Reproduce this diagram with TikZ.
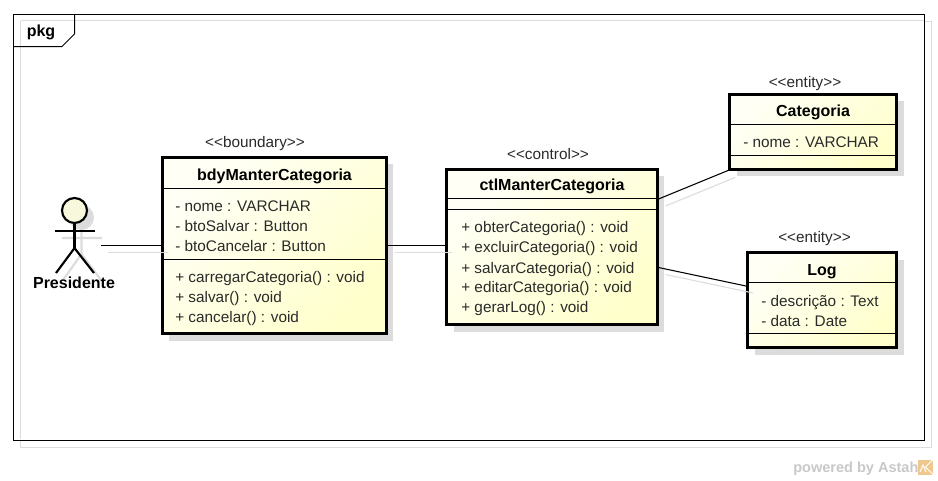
\documentclass[tikz,border=0pt]{standalone}
\usepackage{fontspec}
\setmainfont{Liberation Sans}
\usetikzlibrary{shadows}
\definecolor{boxlight}{HTML}{FFFFF6}
\definecolor{boxdark}{HTML}{FFFFCC}
\definecolor{shadowgray}{HTML}{DCDCDC}
\definecolor{headfill}{HTML}{F8F8DC}
\definecolor{astahgray}{HTML}{C8C8C8}
\definecolor{astahorange}{HTML}{EFC88E}
\definecolor{lighttext}{HTML}{2A2A2A}
\tikzset{
	classbox/.style 2 args={draw,line width=2.25pt,minimum width=#1*0.75pt,minimum height=#2*0.75pt,inner sep=0pt,
		general shadow={fill=shadowgray,shadow xshift=5.25pt,shadow yshift=-5.25pt},
		left color=boxlight,right color=boxdark,shading angle=45},
	rowline/.style={line width=0.75pt},
	assoc/.style={line width=0.8pt},
	assocshadow/.style={line width=0.8pt,shadowgray,transform canvas={xshift=5.25pt,yshift=-5.25pt}},
	stereo/.style={anchor=base,inner sep=0pt,text=lighttext,font=\fontsize{11.5}{13}\selectfont},
	title/.style={anchor=base,inner sep=0pt,font=\fontsize{12}{14}\selectfont\bfseries},
	member/.style={anchor=base west,inner sep=0pt,text=lighttext,font=\fontsize{11.5}{14}\selectfont},
	stick/.style={line width=1.6pt},
	stickshadow/.style={line width=1.6pt,shadowgray}
}
\begin{document}
\begin{tikzpicture}[x=0.75pt,y=-0.75pt]
\useasboundingbox (0,0) rectangle (938,480);
% frame
\node[draw=shadowgray,line width=0.75pt,minimum width=911*0.75pt,minimum height=426*0.75pt,inner sep=0pt] (pkgshadow) at (476,234) {};
\node[draw,fill=white,line width=0.75pt,minimum width=911*0.75pt,minimum height=426*0.75pt,inner sep=0pt] (pkg) at (469,227) {};
\draw[shadowgray,line width=0.75pt] (20.5,20.5) -- (924,20.5) (20.5,20.5) -- (20.5,439);
\draw[line width=0.75pt] (pkg.north west |- 0,46.5) -- (62,46.5) -- (74.5,34) -- (74.5,14);
\node[title] (pkgname) at (41,36) {pkg};
% actor
\draw[stickshadow] (81.5,230) -- (81.5,254) (62,238) -- (102,238) (63,280) -- (81.5,254) -- (101,280);
\fill[shadowgray] (81.5,217.5) circle (12.5);
\node[circle,draw,fill=headfill,line width=1.6pt,minimum size=25*0.75pt,inner sep=0pt] (head) at (74.5,210.5) {};
\draw[stick] (head.south) -- ++(0,24) coordinate (hip);
\draw[stick] (55,231) -- (95,231);
\draw[stick] (56,273) -- (hip) -- (94,273);
\node[title] (presidente) at (74,288.5) {Presidente};
\coordinate (presidenteR) at (101,245.5);
% boundary
\node[classbox={224}{176.5}] (bdy) at (274,245.7) {};
\draw[rowline] (bdy.west |- 0,188.3) -- (bdy.east |- 0,188.3);
\draw[rowline] (bdy.west |- 0,259) -- (bdy.east |- 0,259);
\node[stereo] (bdyStereo) at (255,147.5) {<{}<boundary>{}>};
\node[title] (bdyName) at (274.5,180) {bdyManterCategoria};
\node[member] (bdyNome) at (175,211) {- nome : VARCHAR};
\node[member] (bdySalvar) at (175,231) {- btoSalvar : Button};
\node[member] (bdyCancelar) at (175,251) {- btoCancelar : Button};
\node[member] (bdyCarregar) at (175,282) {+ carregarCategoria() : void};
\node[member] (bdySalvarM) at (175,302) {+ salvar() : void};
\node[member] (bdyCancelarM) at (175,322) {+ cancelar() : void};
% control
\node[classbox={210.5}{155.5}] (ctl) at (551.75,246.75) {};
\draw[rowline] (ctl.west |- 0,198.3) -- (ctl.east |- 0,198.3);
\draw[rowline] (ctl.west |- 0,209.3) -- (ctl.east |- 0,209.3);
\node[stereo] (ctlStereo) at (548,159) {<{}<control>{}>};
\node[title] (ctlName) at (552,190.5) {ctlManterCategoria};
\node[member] (ctlObter) at (461,232) {+ obterCategoria() : void};
\node[member] (ctlExcluir) at (461,252) {+ excluirCategoria() : void};
\node[member] (ctlSalvar) at (461,273) {+ salvarCategoria() : void};
\node[member] (ctlEditar) at (461,292.5) {+ editarCategoria() : void};
\node[member] (ctlGerar) at (461,312.5) {+ gerarLog() : void};
% categoria
\node[classbox={167}{75}] (cat) at (813,131.5) {};
\draw[rowline] (cat.west |- 0,124) -- (cat.east |- 0,124);
\draw[rowline] (cat.west |- 0,155.5) -- (cat.east |- 0,155.5);
\node[stereo] (catStereo) at (805,87) {<{}<entity>{}>};
\node[title] (catName) at (813,116) {Categoria};
\node[member] (catNome) at (743,147) {- nome : VARCHAR};
% log
\node[classbox={149}{95}] (log) at (822,300) {};
\draw[rowline] (log.west |- 0,282.3) -- (log.east |- 0,282.3);
\draw[rowline] (log.west |- 0,333.3) -- (log.east |- 0,333.3);
\node[stereo] (logStereo) at (814.5,242) {<{}<entity>{}>};
\node[title] (logName) at (822,275) {Log};
\node[member] (logDescricao) at (761,306) {- descrição : Text};
\node[member] (logData) at (761,326) {- data : Date};
% associations
\coordinate (ctlTop) at (ctl.east |- 0,199);
\coordinate (ctlLow) at (ctl.east |- 0,267.5);
\coordinate (logIn) at (log.west |- 0,286);
\draw[assocshadow] (presidenteR) -- (bdy.west |- presidenteR);
\draw[assocshadow] (bdy.east |- 0,245.5) -- (ctl.west |- 0,245.5);
\draw[assocshadow] (ctlTop) -- (cat.south west);
\draw[assocshadow] (ctlLow) -- (logIn);
\draw[assoc] (presidenteR) -- (bdy.west |- presidenteR);
\draw[assoc] (bdy.east |- 0,245.5) -- (ctl.west |- 0,245.5);
\draw[assoc] (ctlTop) -- (cat.south west);
\draw[assoc] (ctlLow) -- (logIn);
% astah mark
\node[anchor=base west,inner sep=0pt,text=astahgray,font=\fontsize{10.9}{13}\selectfont\bfseries] (powered) at (793,472) {powered by Astah};
\node[fill=astahorange,minimum size=15*0.75pt,inner sep=0pt] (astah) at (925.5,467) {};
\draw[white,line width=0.75pt] (astah.north east) -- (925.5,467) -- (astah.south east);
\draw[white,line width=0.75pt] (920,472) -- (923,465) -- (926,472);
\end{tikzpicture}
\end{document}
